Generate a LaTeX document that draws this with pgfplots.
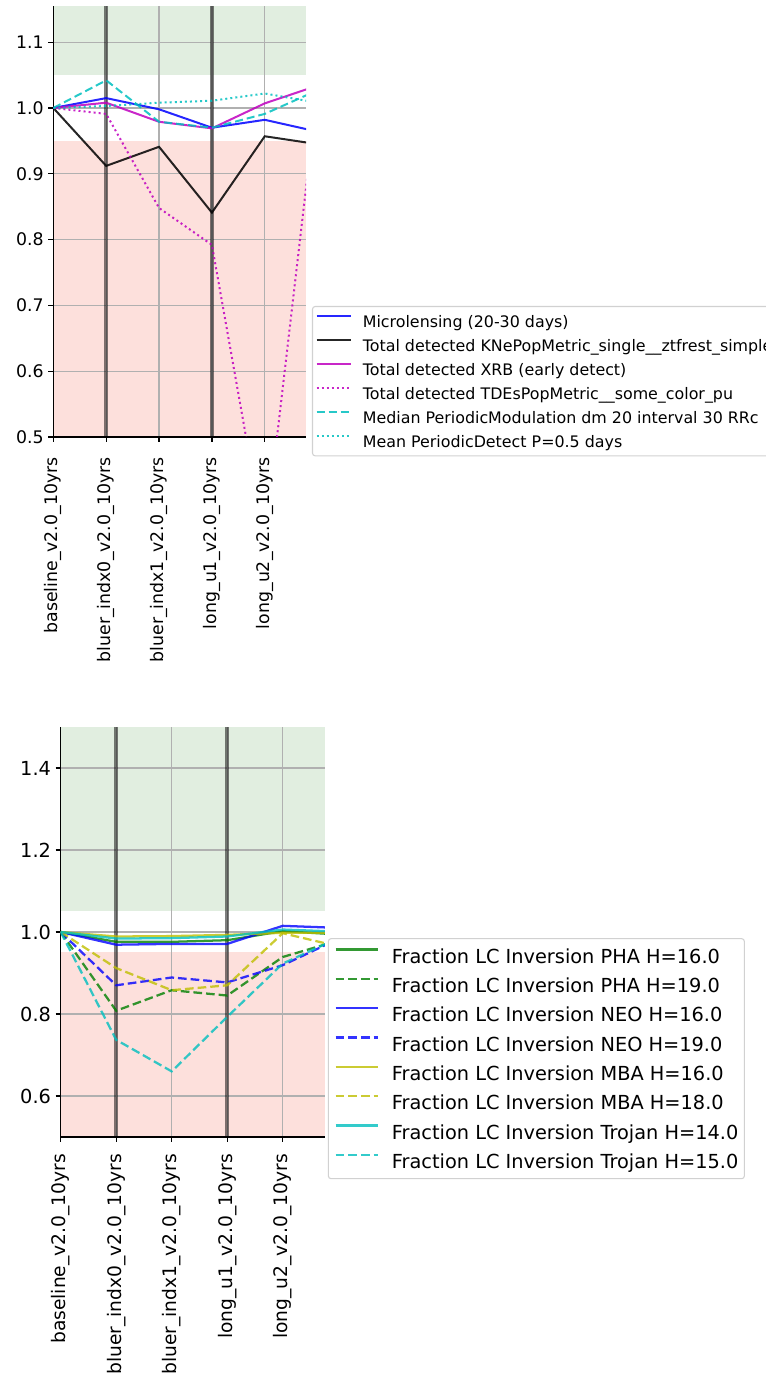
\documentclass[border=0pt]{standalone}
\usepackage{fontspec}
\setmainfont{DejaVu Sans}
\usepackage{pgfplots}
\pgfplotsset{compat=1.18}
\definecolor{mplblue}{RGB}{0,0,255}
\definecolor{mplmag}{RGB}{191,0,191}
\definecolor{mplcyan}{RGB}{0,191,191}
\definecolor{mplgreen}{RGB}{0,128,0}
\definecolor{mplyellow}{RGB}{191,191,0}
\definecolor{bandgreen}{RGB}{225,238,224}
\definecolor{bandred}{RGB}{253,224,220}
\definecolor{gridgray}{RGB}{176,176,176}
\pgfplotsset{
  mystyle/.style={
    scale only axis, set layers, clip=true,
    axis x line*=bottom, axis y line*=left,
    axis line style={black, line width=0.9pt, -},
    tick align=outside, major tick length=3.75pt,
    tick style={black, line width=0.9pt},
    xmin=0, ymin=0.5,
    xtick={0,1,2,3,4},
    xticklabels={baseline\_v2.0\_10yrs, bluer\_indx0\_v2.0\_10yrs, bluer\_indx1\_v2.0\_10yrs, long\_u1\_v2.0\_10yrs, long\_u2\_v2.0\_10yrs},
    xticklabel style={rotate=90, anchor=east},
    yticklabel style={/pgf/number format/fixed, /pgf/number format/fixed zerofill, /pgf/number format/precision=1},
    /pgf/number format/assume math mode=true,
    grid=major, major grid style={gridgray, line width=0.9pt},
    legend cell align=left,
  }
}
\begin{document}
\begin{tikzpicture}
% ---------------- top panel ----------------
\begin{axis}[mystyle,
  at={(40pt,702.75pt)}, anchor=south west,
  width=189.5pt, height=323.25pt,
  xmax=4.78, ymax=1.155,
  ytick={0.5,0.6,0.7,0.8,0.9,1.0,1.1},
  xticklabel shift=8pt,
  tick label style={font=\fontsize{13}{15}\selectfont},
  legend image code/.code={\draw[#1] (0pt,4pt) -- (26pt,4pt);},
  legend style={at={(1.0237,0.304)}, anchor=north west, draw=black!18, line width=0.8pt,
    rounded corners=2pt, fill=white, inner xsep=2.25pt, inner ysep=2pt, row sep=0pt,
    font=\fontsize{11.9}{14}\selectfont,
    nodes={inner sep=0pt, text height=13.4pt, text depth=4.6pt},
    /tikz/every odd column/.style={column sep=8pt}},
  every axis plot/.append style={line width=1.5pt, draw opacity=0.85},
]
\begin{pgfonlayer}{axis background}
\fill[bandgreen] (axis cs:0,1.05) rectangle (axis cs:4.78,1.155);
\fill[bandred] (axis cs:0,0.5) rectangle (axis cs:4.78,0.95);
\end{pgfonlayer}
\draw[black, line width=3pt, opacity=0.5] (axis cs:1,0.5) -- (axis cs:1,1.155);
\draw[black, line width=3pt, opacity=0.5] (axis cs:3,0.5) -- (axis cs:3,1.155);
\addplot[mplblue] coordinates {(0,1.0)(1,1.015)(2,0.998)(3,0.970)(4,0.982)(5,0.964)};
\addlegendentry{Microlensing (20-30 days)}
\addplot[black] coordinates {(0,1.0)(1,0.912)(2,0.941)(3,0.841)(4,0.957)(5,0.945)};
\addlegendentry{Total detected KNePopMetric\_single\_\_ztfrest\_simple\_red}
\addplot[mplmag] coordinates {(0,1.0)(1,1.008)(2,0.979)(3,0.969)(4,1.007)(5,1.034)};
\addlegendentry{Total detected XRB (early detect)}
\addplot[mplmag, dash pattern=on 1.5pt off 2.3pt] coordinates {(0,1.0)(1,0.991)(2,0.848)(3,0.792)(4,0.34)(5,1.03)};
\addlegendentry{Total detected TDEsPopMetric\_\_some\_color\_pu}
\addplot[mplcyan, dash pattern=on 6pt off 3pt] coordinates {(0,1.0)(1,1.042)(2,0.979)(3,0.970)(4,0.991)(5,1.027)};
\addlegendentry{Median PeriodicModulation dm 20 interval 30 RRc}
\addplot[mplcyan, dash pattern=on 1.5pt off 2.3pt] coordinates {(0,1.0)(1,1.003)(2,1.008)(3,1.011)(4,1.022)(5,1.008)};
\addlegendentry{Mean PeriodicDetect P=0.5 days}
\end{axis}
% ---------------- bottom panel ----------------
\begin{axis}[mystyle,
  at={(45.5pt,177.75pt)}, anchor=south west,
  width=198.2pt, height=307.5pt,
  xmax=4.76, ymax=1.5,
  ytick={0.6,0.8,1.0,1.2,1.4},
  xticklabel shift=5.5pt,
  yticklabel style={font=\fontsize{14.5}{17}\selectfont},
  xticklabel style={font=\fontsize{14}{17}\selectfont},
  legend image code/.code={\draw[#1] (0pt,4.8pt) -- (32pt,4.8pt);},
  legend style={at={(1.011,0.485)}, anchor=north west, draw=black!18, line width=0.8pt,
    rounded corners=2pt, fill=white, inner xsep=4.5pt, inner ysep=2pt, row sep=0pt,
    font=\fontsize{14.5}{17}\selectfont,
    nodes={inner sep=0pt, text height=16.3pt, text depth=5.7pt},
    /tikz/every odd column/.style={column sep=9.5pt}},
  every axis plot/.append style={line width=1.7pt, draw opacity=0.8},
]
\begin{pgfonlayer}{axis background}
\fill[bandgreen] (axis cs:0,1.05) rectangle (axis cs:4.76,1.5);
\fill[bandred] (axis cs:0,0.5) rectangle (axis cs:4.76,0.95);
\end{pgfonlayer}
\draw[black, line width=3pt, opacity=0.5] (axis cs:1,0.5) -- (axis cs:1,1.5);
\draw[black, line width=3pt, opacity=0.5] (axis cs:3,0.5) -- (axis cs:3,1.5);
\addplot[mplgreen] coordinates {(0,1)(1,0.976)(2,0.976)(3,0.980)(4,1.002)(5,0.994)};
\addlegendentry{Fraction LC Inversion PHA H=16.0}
\addplot[mplgreen, dash pattern=on 6.5pt off 3pt] coordinates {(0,1)(1,0.808)(2,0.858)(3,0.845)(4,0.939)(5,0.979)};
\addlegendentry{Fraction LC Inversion PHA H=19.0}
\addplot[mplblue] coordinates {(0,1)(1,0.969)(2,0.971)(3,0.971)(4,1.015)(5,1.010)};
\addlegendentry{Fraction LC Inversion NEO H=16.0}
\addplot[mplblue, dash pattern=on 6.5pt off 3pt] coordinates {(0,1)(1,0.870)(2,0.889)(3,0.877)(4,0.919)(5,0.983)};
\addlegendentry{Fraction LC Inversion NEO H=19.0}
\addplot[mplyellow] coordinates {(0,1)(1,0.989)(2,0.990)(3,0.993)(4,0.998)(5,0.998)};
\addlegendentry{Fraction LC Inversion MBA H=16.0}
\addplot[mplyellow, dash pattern=on 6.5pt off 3pt] coordinates {(0,1)(1,0.912)(2,0.858)(3,0.870)(4,0.997)(5,0.965)};
\addlegendentry{Fraction LC Inversion MBA H=18.0}
\addplot[mplcyan] coordinates {(0,1)(1,0.984)(2,0.985)(3,0.989)(4,1.006)(5,1.001)};
\addlegendentry{Fraction LC Inversion Trojan H=14.0}
\addplot[mplcyan, dash pattern=on 6.5pt off 3pt] coordinates {(0,1)(1,0.737)(2,0.660)(3,0.793)(4,0.923)(5,0.985)};
\addlegendentry{Fraction LC Inversion Trojan H=15.0}
\end{axis}
\pgfresetboundingbox
\path[use as bounding box] (0,0) rectangle (574.5pt,1030.5pt);
\end{tikzpicture}
\end{document}
